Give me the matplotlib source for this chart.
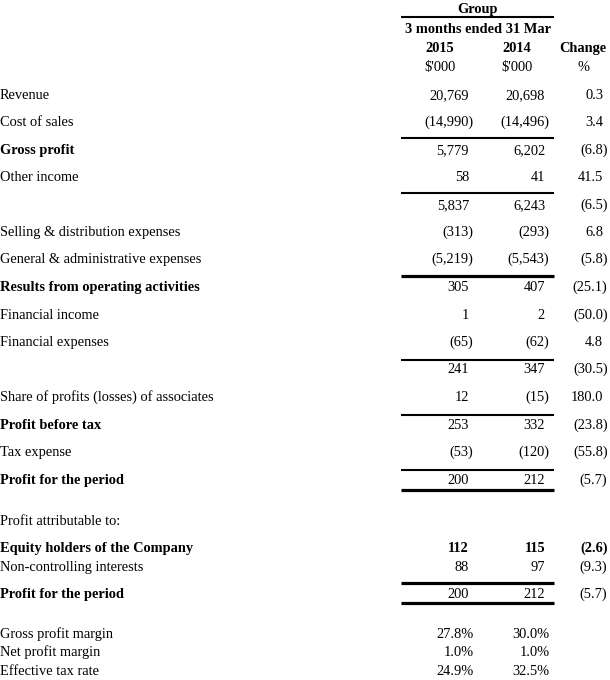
import matplotlib
matplotlib.use("Agg")
import matplotlib.pyplot as plt

plt.rcParams["font.family"] = ["Liberation Serif", "DejaVu Serif"]

# Income statement rows (label, 2015, 2014, change %)
labels = [
    "Revenue", "Cost of sales", "Gross profit", "Other income", "",
    "Selling & distribution expenses", "General & administrative expenses",
    "Results from operating activities", "Financial income", "Financial expenses", "",
    "Share of profits (losses) of associates", "Profit before tax", "Tax expense",
    "Profit for the period",
]
v2015 = [20769, -14990, 5779, 58, 5837, -313, -5219, 305, 1, -65, 241, 12, 253, -53, 200]
v2014 = [20698, -14496, 6202, 41, 6243, -293, -5543, 407, 2, -62, 347, -15, 332, -120, 212]
change = [0.3, 3.4, -6.8, 41.5, -6.5, 6.8, -5.8, -25.1, -50.0, 4.8, -30.5, 180.0, -23.8, -55.8, -5.7]
bold_rows = ["Gross profit", "Results from operating activities", "Profit before tax",
             "Profit for the period"]

attr_labels = ["Equity holders of the Company", "Non-controlling interests", "Profit for the period"]
attr_2015 = [112, 88, 200]
attr_2014 = [115, 97, 212]
attr_change = [-2.6, -9.3, -5.7]

ratio_labels = ["Gross profit margin", "Net profit margin", "Effective tax rate"]
ratio_2015 = [27.8, 1.0, 24.9]
ratio_2014 = [30.0, 1.0, 32.5]

# layout (pixel coords, y = visual middle of caps)
row_y = [94, 121, 149, 176, 204, 231, 258, 286, 314, 341, 368, 396, 424, 451, 479]
attr_y = [547, 566, 593]
ratio_y = [633, 651, 670]
x1, x2, x3 = 469, 545, 603
hang = 4.5
fs = 10.4
base = 5.2  # offset from middle to baseline

fig = plt.figure(figsize=(6.1, 6.8), dpi=100)
ax = fig.add_axes([0, 0, 1, 1])
ax.set_xlim(0, 610)
ax.set_ylim(680, 0)
ax.axis("off")


def fmt_num(v):
    s = f"{abs(v):,}"
    return f"({s})" if v < 0 else s


def fmt_pct(v):
    s = f"{abs(v):.1f}"
    return f"({s})" if v < 0 else s


def txt(x, y, s, ha="left", weight="normal"):
    ax.text(x, y + base, s, ha=ha, va="baseline", fontsize=fs, fontweight=weight)


def put(x, y, s, neg, weight="normal"):
    txt(x + (hang if neg else 0), y, s, ha="right", weight=weight)


def line(y, lw):
    ax.plot([401, 554], [y, y], color="black", lw=lw, solid_capstyle="butt")


# header
txt(477, 8, "Group", ha="center", weight="bold")
txt(478, 28, "3 months ended 31 Mar", ha="center", weight="bold")
for x, t in [(440, "2015"), (517, "2014"), (583, "Change")]:
    txt(x, 47, t, ha="center", weight="bold")
for x, t in [(440, "$'000"), (517, "$'000"), (583, "%")]:
    txt(x, 66, t, ha="center")

for y, lab, a, b, c in zip(row_y, labels, v2015, v2014, change):
    w = "bold" if lab in bold_rows else "normal"
    txt(0, y, lab, weight=w)
    put(x1, y, fmt_num(a), a < 0)
    put(x2, y, fmt_num(b), b < 0)
    put(x3, y, fmt_pct(c), c < 0)

txt(0, 520, "Profit attributable to:")
for i, (y, lab, a, b, c) in enumerate(zip(attr_y, attr_labels, attr_2015, attr_2014, attr_change)):
    wl = "normal" if lab == "Non-controlling interests" else "bold"
    wn = "bold" if i == 0 else "normal"
    txt(0, y, lab, weight=wl)
    put(x1, y, fmt_num(a), a < 0, wn)
    put(x2, y, fmt_num(b), b < 0, wn)
    put(x3, y, fmt_pct(c), c < 0, wn)

for y, lab, a, b in zip(ratio_y, ratio_labels, ratio_2015, ratio_2014):
    txt(0, y, lab)
    put(x1, y, f"{a:.1f}%", True)
    put(x2, y, f"{b:.1f}%", True)

# rules
for y in [17, 138, 193, 360, 415, 470]:
    line(y, 1.5)
for y in [276, 490, 583, 603]:
    line(y, 2.3)

fig.savefig("out.png", dpi=100)
